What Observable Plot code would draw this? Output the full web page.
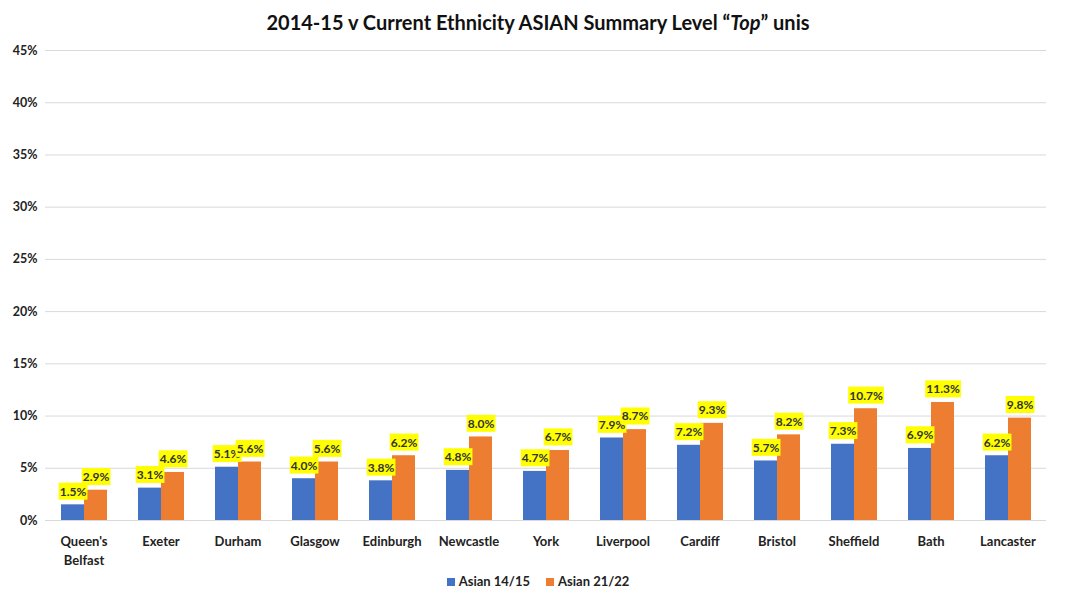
<!DOCTYPE html>
<html>
<head>
<meta charset="utf-8">
<script src="https://cdn.jsdelivr.net/npm/d3@7"></script>
<script src="https://cdn.jsdelivr.net/npm/@observablehq/plot@0.6"></script>
<style>
  body { margin: 0; background: #fff; font-family: Lato, "Open Sans", sans-serif; }
  #title { height: 40px; line-height: 44px; text-align: center; font-weight: bold; font-size: 20px; color: #111; }
  #legend { text-align: center; font-weight: bold; font-size: 13px; color: #222; margin-top: 1px; }
  #legend span.sw { display: inline-block; width: 8px; height: 8px; margin-right: 4px; vertical-align: 0px; }
  #legend span.item { margin: 0 8px; }
</style>
</head>
<body>
<div id="title">2014-15 v Current Ethnicity ASIAN Summary Level “<i>Top</i>” unis</div>
<div id="chart"></div>
<div id="legend"></div>
<script>
const categories = ["Queen's Belfast","Exeter","Durham","Glasgow","Edinburgh","Newcastle","York","Liverpool","Cardiff","Bristol","Sheffield","Bath","Lancaster"];
const series = ["Asian 14/15", "Asian 21/22"];
const asian1415 = [1.5, 3.1, 5.1, 4.0, 3.8, 4.8, 4.7, 7.9, 7.2, 5.7, 7.3, 6.9, 6.2];
const asian2122 = [2.9, 4.6, 5.6, 5.6, 6.2, 8.0, 6.7, 8.7, 9.3, 8.2, 10.7, 11.3, 9.8];
const yTicks = [0, 0.05, 0.10, 0.15, 0.20, 0.25, 0.30, 0.35, 0.40, 0.45];
const colors = ["#4472C4", "#ED7D31"];

const data = categories.flatMap((c, i) => [
  {cat: c, series: series[0], value: asian1415[i] / 100},
  {cat: c, series: series[1], value: asian2122[i] / 100}
]);

const plot = Plot.plot({
  width: 1076,
  height: 532,
  marginTop: 10,
  marginBottom: 52,
  marginLeft: 44,
  marginRight: 29,
  style: {fontFamily: "Lato, 'Open Sans', sans-serif", fontSize: "13px", fontWeight: "bold", color: "#222"},
  fx: {domain: categories, padding: 0, label: null},
  x: {domain: series, paddingInner: 0, paddingOuter: 0.67, axis: null},
  y: {domain: [0, 0.45], label: null},
  color: {domain: series, range: colors},
  marks: [
    Plot.gridY(yTicks, {stroke: "#d9d9d9", strokeOpacity: 1}),
    Plot.axisY(yTicks, {tickFormat: d3.format(".0%"), tickSize: 0, tickPadding: 8, label: null, fontSize: 12.5}),
    Plot.axisFx({anchor: "bottom", tickSize: 0, tickPadding: 12, lineHeight: 1.45, label: null,
      tickFormat: d => d === "Queen's Belfast" ? "Queen's\nBelfast" : d}),
    Plot.barY(data, {fx: "cat", x: "series", y: "value", fill: "series"}),
    Plot.text(data, {fx: "cat", x: "series", y: "value", text: d => d3.format(".1%")(d.value),
      dy: -13, fill: "#333", fontSize: 12, fontWeight: "bold"})
  ]
});
document.getElementById("chart").appendChild(plot);

// yellow label backgrounds
plot.querySelectorAll("g[aria-label='text'] text").forEach(t => {
  const b = t.getBBox();
  const r = document.createElementNS("http://www.w3.org/2000/svg", "rect");
  r.setAttribute("x", b.x - 1);
  r.setAttribute("y", b.y - 1);
  r.setAttribute("width", b.width + 2);
  r.setAttribute("height", b.height + 2);
  r.setAttribute("fill", "#FFFF00");
  const tr = t.getAttribute("transform");
  if (tr) r.setAttribute("transform", tr);
  t.parentNode.insertBefore(r, t);
});

document.getElementById("legend").innerHTML = series.map((s, i) =>
  `<span class="item"><span class="sw" style="background:${colors[i]}"></span>${s}</span>`).join("");
</script>
</body>
</html>
